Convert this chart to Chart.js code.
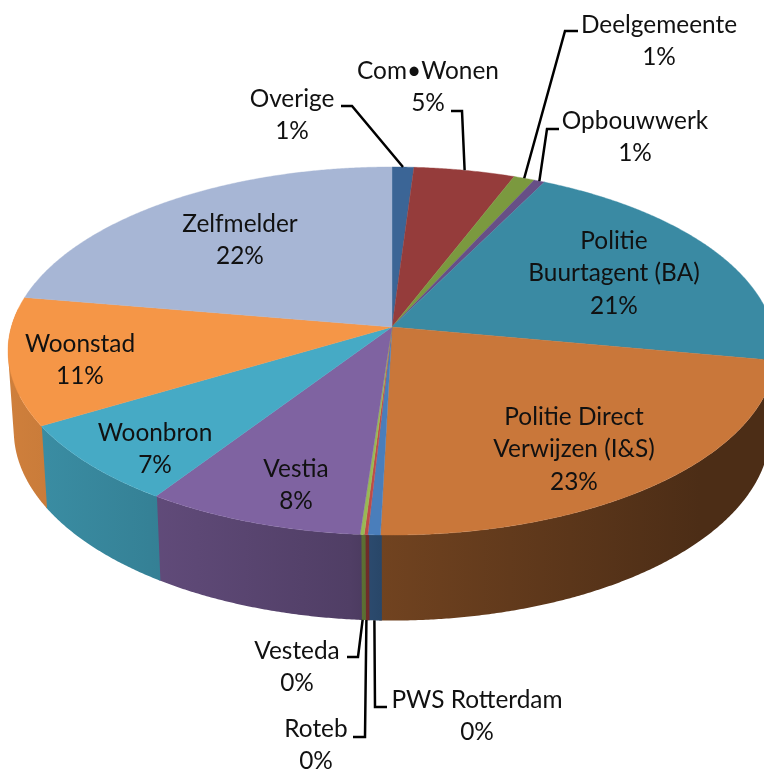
<!DOCTYPE html>
<html>
<head>
<meta charset="utf-8">
<title>Melders</title>
<script src="https://cdn.jsdelivr.net/npm/chart.js@4"></script>
<style>
  html, body { margin: 0; background: #fff; }
  canvas { display: block; }
</style>
</head>
<body>
<canvas id="myChart" width="764" height="769"></canvas>
<script>
const categorias = ["Overige", "Com\u2022Wonen", "Deelgemeente", "Opbouwwerk", "Politie Buurtagent (BA)",
  "Politie Direct Verwijzen (I&S)", "PWS Rotterdam", "Roteb", "Vesteda", "Vestia", "Woonbron", "Woonstad", "Zelfmelder"];
const valores = [1.04, 4.82, 1.0, 0.52, 20.52, 22.52, 0.46, 0.13, 0.15, 8.16, 7.15, 11.2, 22.33];
const colores = ["#3b6596", "#953c3b", "#7b993f", "#674f86", "#3a8aa3", "#c9773a", "#4a7ebb",
  "#be4b48", "#98b954", "#7f63a1", "#46aac5", "#f59647", "#a7b6d5"];

// how the flat circle is tilted
const centro = { x: 392, y: 327 };
const escalaX = 380.7, escalaY = 180.9, fuga = 0.1305;
const fondo = { sx: 0.985, dy: 82, sy: 0.032, y0: 426 };
const sombra = [[0, 0.85], [150, 0.76], [350, 0.63], [380, 0.56], [700, 0.38], [764, 0.38]];

// label text lines, anchor and leader elbows, same order as categorias
const etiquetas = [
  { lineas: ["Overige"], x: 292, y: 99, guia: [[341, 106], [352, 106]], r: 1 },
  { lineas: ["Com\u2022Wonen"], x: 428, y: 71, guia: [[451, 111], [462, 111]], r: 1 },
  { lineas: ["Deelgemeente"], x: 659, y: 25, guia: [[578, 31], [565, 31]], r: 1 },
  { lineas: ["Opbouwwerk"], x: 635, y: 121, guia: [[559, 129], [547, 129]], r: 1 },
  { lineas: ["Politie", "Buurtagent (BA)"], x: 614, y: 241 },
  { lineas: ["Politie Direct", "Verwijzen (I&S)"], x: 574, y: 417 },
  { lineas: ["PWS Rotterdam"], x: 477, y: 700, guia: [[387, 707], [375, 707]], r: 2 },
  { lineas: ["Roteb"], x: 316, y: 729, guia: [[353, 737], [365, 737]], r: 2 },
  { lineas: ["Vesteda"], x: 297, y: 651, guia: [[347, 657], [358, 657]], r: 2 },
  { lineas: ["Vestia"], x: 296, y: 469 },
  { lineas: ["Woonbron"], x: 155, y: 433 },
  { lineas: ["Woonstad"], x: 80, y: 344 },
  { lineas: ["Zelfmelder"], x: 240, y: 224 }
];

function proyectar(ang) {
  const X = Math.cos(ang), Y = Math.sin(ang);
  const w = 1 - fuga * Y;
  return { x: centro.x + escalaX * X / w, y: centro.y + escalaY * Y / w, Y };
}

function abajo(p) {
  return {
    x: centro.x + fondo.sx * (p.x - centro.x),
    y: p.y + fondo.dy + (p.y - fondo.y0) * fondo.sy
  };
}

function borde(ini, fin) {
  const pts = [];
  const n = Math.max(2, Math.ceil((fin - ini) / 0.006));
  for (let i = 0; i <= n; i++) pts.push(proyectar(ini + (fin - ini) * i / n));
  return pts;
}

function oscurecer(hex, f) {
  const n = parseInt(hex.slice(1), 16);
  return `rgb(${Math.round((n >> 16) * f)},${Math.round(((n >> 8) & 255) * f)},${Math.round((n & 255) * f)})`;
}

const pie3d = {
  id: "pie3d",
  beforeDatasetDraw(chart) {
    const ctx = chart.ctx;
    const arcos = chart.getDatasetMeta(0).data;

    // side wall first: one path per slice made of small pieces, all wound the same way
    arcos.forEach((arco, i) => {
      const pts = borde(arco.startAngle - 0.003, arco.endAngle + 0.003);
      const grad = ctx.createLinearGradient(0, 0, 764, 0);
      sombra.forEach((s) => grad.addColorStop(s[0] / 764, oscurecer(colores[i], s[1])));
      ctx.beginPath();
      for (let k = 0; k < pts.length - 1; k++) {
        if (pts[k].Y < -0.1) continue; // back of the rim is hidden by the top face
        let q = [pts[k], pts[k + 1], abajo(pts[k + 1]), abajo(pts[k])];
        const area = q.reduce((s, p, j) => {
          const n = q[(j + 1) % 4];
          return s + p.x * n.y - n.x * p.y;
        }, 0);
        if (area < 0) q = q.reverse();
        ctx.moveTo(q[0].x, q[0].y);
        ctx.lineTo(q[1].x, q[1].y);
        ctx.lineTo(q[2].x, q[2].y);
        ctx.lineTo(q[3].x, q[3].y);
        ctx.closePath();
      }
      ctx.fillStyle = grad;
      ctx.fill();
    });

    // top face
    arcos.forEach((a, i) => {
      ctx.beginPath();
      ctx.moveTo(centro.x, centro.y);
      borde(a.startAngle, a.endAngle).forEach((p) => ctx.lineTo(p.x, p.y));
      ctx.closePath();
      ctx.fillStyle = colores[i];
      ctx.strokeStyle = colores[i];
      ctx.lineWidth = 0.4;
      ctx.fill();
      ctx.stroke();
    });
    return false;
  },
  afterDatasetsDraw(chart) {
    const ctx = chart.ctx;
    const arcos = chart.getDatasetMeta(0).data;
    etiquetas.forEach((e, i) => {
      if (e.guia) {
        let fin = proyectar((arcos[i].startAngle + arcos[i].endAngle) / 2);
        if (e.r === 2) fin = abajo(fin);
        ctx.beginPath();
        ctx.moveTo(e.guia[0][0], e.guia[0][1]);
        ctx.lineTo(e.guia[1][0], e.guia[1][1]);
        ctx.lineTo(fin.x, fin.y);
        ctx.strokeStyle = "#000";
        ctx.lineWidth = 2.5;
        ctx.stroke();
      }
      ctx.font = '24.4px Lato, "Open Sans", sans-serif';
      ctx.fillStyle = "#111";
      ctx.textAlign = "center";
      ctx.textBaseline = "middle";
      const lineas = e.lineas.concat(Math.round(valores[i]) + "%");
      lineas.forEach((t, k) => ctx.fillText(t, e.x, e.y + k * 32.5));
    });
  }
};

new Chart(document.getElementById("myChart"), {
  type: "pie",
  data: {
    labels: categorias,
    datasets: [{ data: valores, backgroundColor: colores, borderWidth: 0 }]
  },
  options: {
    responsive: false,
    animation: false,
    devicePixelRatio: 1,
    plugins: { legend: { display: false }, tooltip: { enabled: false } }
  },
  plugins: [pie3d]
});
</script>
</body>
</html>
